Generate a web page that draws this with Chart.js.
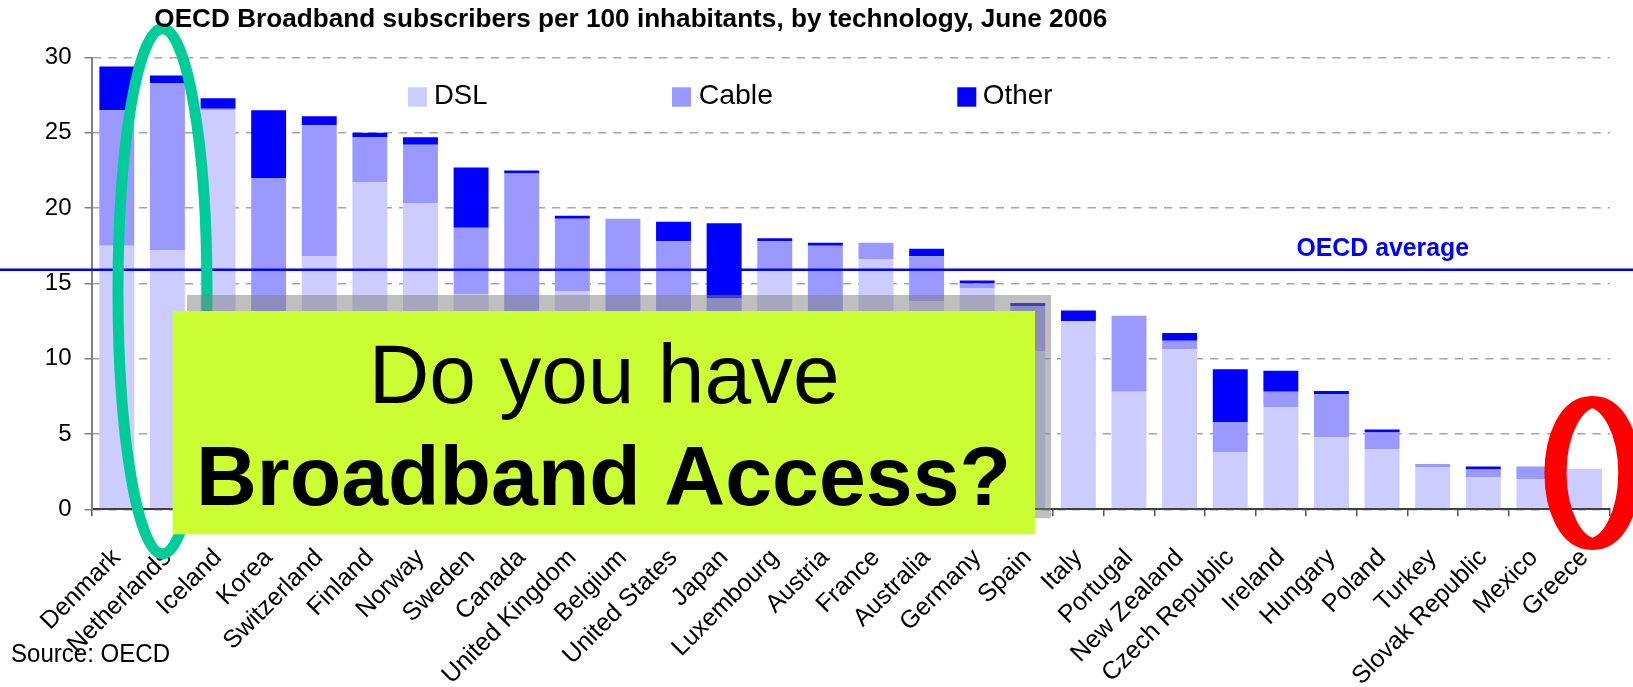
<!DOCTYPE html>
<html><head><meta charset="utf-8">
<script src="https://cdn.jsdelivr.net/npm/chart.js@4"></script>
<style>html,body{margin:0;padding:0;background:#fff;overflow:hidden}</style>
</head><body>
<canvas id="c" width="1633" height="687"></canvas>
<script>
const countries = ["Denmark","Netherlands","Iceland","Korea","Switzerland","Finland","Norway","Sweden","Canada","United Kingdom","Belgium","United States","Japan","Luxembourg","Austria","France","Australia","Germany","Spain","Italy","Portugal","New Zealand","Czech Republic","Ireland","Hungary","Poland","Turkey","Slovak Republic","Mexico","Greece"];
const dsl   = [17.5,17.2,26.5,11.6,16.8,21.7,20.3,14.3,10.0,14.5,11.3,7.6,11.1,15.8,10.4,16.6,13.8,14.7,10.5,12.5,7.8,10.65,3.8,6.8,4.8,4.0,2.8,2.15,2.0,2.7];
const cable = [9.0,11.1,0.1,10.4,8.7,3.0,3.9,4.4,12.3,4.8,8.0,10.2,2.9,2.0,7.1,1.1,3.0,0.3,3.0,0.0,5.05,0.55,2.0,1.0,2.85,1.1,0.2,0.5,0.85,0.0];
const other = [2.9,0.5,0.7,4.5,0.6,0.3,0.5,4.0,0.2,0.2,0.0,1.3,5.0,0.2,0.2,0.0,0.5,0.2,0.2,0.7,0.0,0.5,3.5,1.4,0.2,0.2,0.0,0.2,0.0,0.0];
const seriesNames = ["DSL","Cable","Other"];
const seriesColors = ["#CCCCFF","#9999FF","#0000FF"];
const yMin = 0, yMax = 30, yStep = 5;
const oecdAverage = 15.9;
const titleText = "OECD Broadband subscribers per 100 inhabitants, by technology, June 2006";
const avgLabel = "OECD average";
const sourceText = "Source: OECD";
const boxLine1 = "Do you have";
const boxLine2 = "Broadband Access?";

const FONT = '"Liberation Sans", Arial, sans-serif';

function fitText(ctx, text, x, y, font, width, color) {
  ctx.save();
  ctx.font = font;
  const w = ctx.measureText(text).width;
  const s = width ? width / w : 1;
  ctx.translate(x, y);
  ctx.scale(s, 1);
  ctx.fillStyle = color || '#000';
  ctx.textAlign = 'left';
  ctx.textBaseline = 'alphabetic';
  ctx.fillText(text, 0, 0);
  ctx.restore();
}

const overlay = {
  id: 'overlay',
  afterDraw(chart) {
    const ctx = chart.ctx;
    const ys = chart.scales.y;
    const yAvg = ys.getPixelForValue(oecdAverage);
    // OECD average line
    ctx.save();
    ctx.strokeStyle = '#0000FF';
    ctx.lineWidth = 2.5;
    ctx.beginPath(); ctx.moveTo(0, yAvg); ctx.lineTo(chart.width, yAvg); ctx.stroke();
    ctx.restore();
    fitText(ctx, avgLabel, 1296.5, yAvg - 14, 'bold 25px ' + FONT, 172.5, '#0000FF');

    // green ellipse
    ctx.save();
    ctx.strokeStyle = '#00CC99';
    ctx.lineWidth = 11;
    ctx.beginPath(); ctx.ellipse(162.5, 291.3, 44.5, 262.5, 0, 0, Math.PI * 2); ctx.stroke();
    ctx.restore();

    // shadow
    ctx.save();
    ctx.fillStyle = 'rgba(128,128,128,0.5)';
    ctx.fillRect(187, 295, 1051 - 187, 518.3 - 295);
    ctx.restore();

    // yellow box
    ctx.save();
    ctx.fillStyle = '#CCFF33';
    ctx.fillRect(172.6, 311, 1035 - 172.6, 534.3 - 311);
    ctx.restore();
    fitText(ctx, boxLine1, 368.7, 402.7, '83px ' + FONT, 471, '#000');
    fitText(ctx, boxLine2, 196, 505, 'bold 84px ' + FONT, 815, '#000');

    // red ellipse
    ctx.save();
    ctx.translate(1592.4, 473);
    ctx.scale(1.8, 1);
    ctx.strokeStyle = '#FF0000';
    ctx.lineWidth = 12.3;
    ctx.beginPath(); ctx.ellipse(0, 0, 20.5, 70.9, 0, 0, Math.PI * 2); ctx.stroke();
    ctx.restore();

    // title
    fitText(ctx, titleText, 154.3, 27.3, 'bold 26px ' + FONT, 953, '#000');

    // legend
    const boxX = [408, 672, 957.3];
    const txtX = [434, 698.7, 982.8];
    const txtW = [53.5, 74.3, 69.6];
    chart.data.datasets.forEach((ds, i) => {
      ctx.save();
      ctx.fillStyle = ds.backgroundColor;
      ctx.fillRect(boxX[i], 87.3, 19, 19.4);
      ctx.restore();
      fitText(ctx, ds.label, txtX[i], 104, '28px ' + FONT, txtW[i], '#000');
    });

    // source
    fitText(ctx, sourceText, 11, 661.7, '25px ' + FONT, 159, '#000');
  }
};

new Chart(document.getElementById('c'), {
  type: 'bar',
  data: {
    labels: countries,
    datasets: [
      { label: seriesNames[0], data: dsl, backgroundColor: seriesColors[0] },
      { label: seriesNames[1], data: cable, backgroundColor: seriesColors[1] },
      { label: seriesNames[2], data: other, backgroundColor: seriesColors[2] }
    ]
  },
  options: {
    responsive: false,
    animation: false,
    devicePixelRatio: 1,
    layout: { padding: { left: 0, right: 16, top: 57.5, bottom: 0 } },
    datasets: { bar: { barPercentage: 0.69, categoryPercentage: 1.0, borderWidth: 0 } },
    plugins: { legend: { display: false }, title: { display: false }, tooltip: { enabled: false } },
    scales: {
      x: {
        stacked: true,
        grid: { display: true, drawOnChartArea: false, drawTicks: true, tickLength: 7, offset: true, color: '#555', lineWidth: 1.5 },
        border: { display: true, color: '#404040', width: 2, z: 1 },
        ticks: { autoSkip: false, maxRotation: 45, minRotation: 45, padding: 27, color: '#000', font: { family: FONT, size: 25 } },
        afterFit(s) { s.height = 177.7; }
      },
      y: {
        stacked: true,
        min: yMin, max: yMax,
        ticks: { stepSize: yStep, padding: 13, color: '#000', font: { family: FONT, size: 24 } },
        grid: { color: '#a6a6a6', lineWidth: 1.5, tickLength: 7, tickColor: '#808080', tickWidth: 1.5 },
        border: { display: true, color: '#808080', width: 2, dash: [8.3, 7], z: 1 },
        afterFit(s) { s.width = 91.5; }
      }
    }
  },
  plugins: [overlay]
});
</script>
</body></html>
